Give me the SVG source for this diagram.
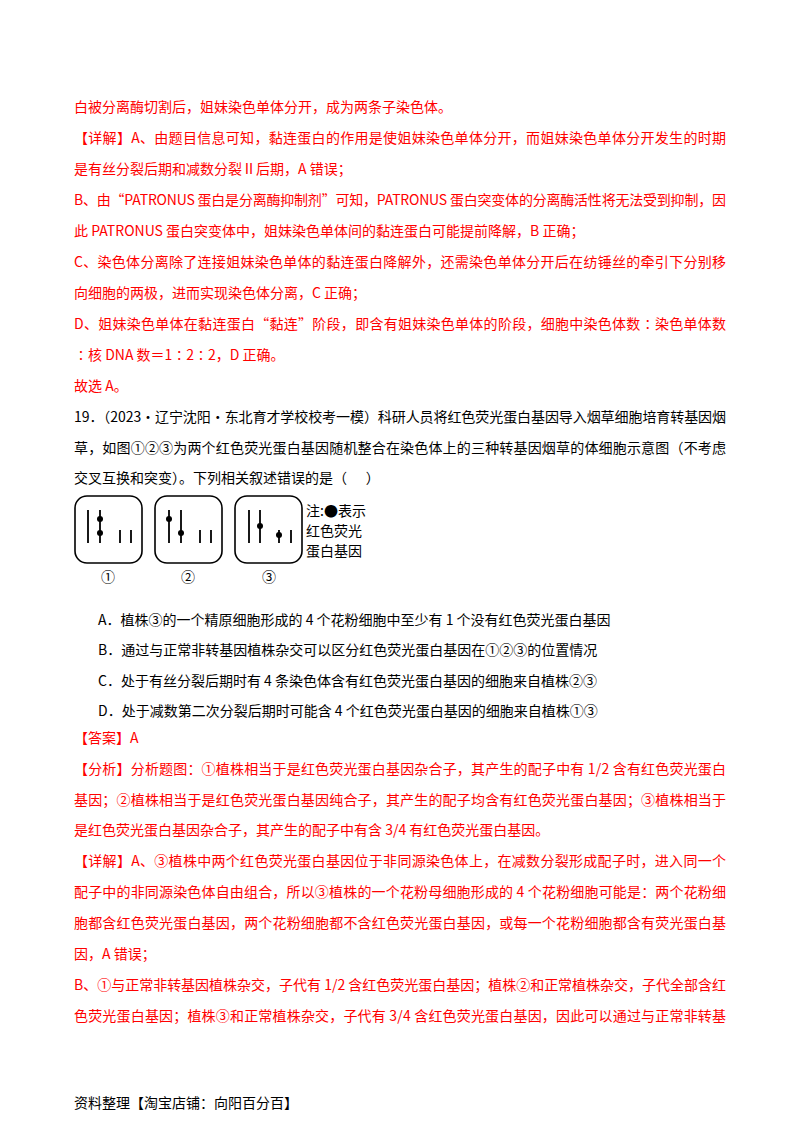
<svg xmlns="http://www.w3.org/2000/svg" width="800" height="1132" viewBox="0 0 800 1132">
<style>
text{font-family:"Noto Sans CJK SC","Noto Sans",sans-serif;font-size:14px}
.r{fill:#f00}.k{fill:#000}
.box{fill:none;stroke:#000;stroke-width:1.6}
.ch{stroke:#000;stroke-width:1.8}
</style>
<rect width="800" height="1132" fill="#fff"/>
<g id="text">
<text class="r" x="74" y="112">白被分离酶切割后，姐妹染色单体分开，成为两条子染色体。</text>
<text class="r" x="74" y="143" textLength="652" lengthAdjust="spacing">【详解】A、由题目信息可知，黏连蛋白的作用是使姐妹染色单体分开，而姐妹染色单体分开发生的时期</text>
<text class="r" x="74" y="174">是有丝分裂后期和减数分裂Ⅱ后期，A 错误；</text>
<text class="r" x="74" y="205" textLength="652" lengthAdjust="spacing">B、由“PATRONUS 蛋白是分离酶抑制剂”可知，PATRONUS 蛋白突变体的分离酶活性将无法受到抑制，因</text>
<text class="r" x="74" y="236">此 PATRONUS 蛋白突变体中，姐妹染色单体间的黏连蛋白可能提前降解，B 正确；</text>
<text class="r" x="74" y="267" textLength="652" lengthAdjust="spacing">C、染色体分离除了连接姐妹染色单体的黏连蛋白降解外，还需染色单体分开后在纺锤丝的牵引下分别移</text>
<text class="r" x="74" y="298">向细胞的两极，进而实现染色体分离，C 正确；</text>
<text class="r" x="74" y="329" textLength="652" lengthAdjust="spacing">D、姐妹染色单体在黏连蛋白“黏连”阶段，即含有姐妹染色单体的阶段，细胞中染色体数∶染色单体数</text>
<text class="r" x="74" y="360">∶核 DNA 数＝1∶2∶2，D 正确。</text>
<text class="r" x="74" y="391">故选 A。</text>
<text class="k" x="74" y="422" textLength="652" lengthAdjust="spacing">19．（2023·辽宁沈阳·东北育才学校校考一模）科研人员将红色荧光蛋白基因导入烟草细胞培育转基因烟</text>
<text class="k" x="74" y="453" textLength="652" lengthAdjust="spacing">草，如图①②③为两个红色荧光蛋白基因随机整合在染色体上的三种转基因烟草的体细胞示意图（不考虑</text>
<text class="k" x="74" y="483">交叉互换和突变）。下列相关叙述错误的是（&#160;&#160;&#160;&#160;&#160;&#160;）</text>
<text class="k" x="98" y="625">A．植株③的一个精原细胞形成的 4 个花粉细胞中至少有 1 个没有红色荧光蛋白基因</text>
<text class="k" x="98" y="655">B．通过与正常非转基因植株杂交可以区分红色荧光蛋白基因在①②③的位置情况</text>
<text class="k" x="98" y="686">C．处于有丝分裂后期时有 4 条染色体含有红色荧光蛋白基因的细胞来自植株②③</text>
<text class="k" x="98" y="716">D．处于减数第二次分裂后期时可能含 4 个红色荧光蛋白基因的细胞来自植株①③</text>
<text class="r" x="74" y="743">【答案】A</text>
<text class="r" x="74" y="774" textLength="652" lengthAdjust="spacing">【分析】分析题图：①植株相当于是红色荧光蛋白基因杂合子，其产生的配子中有 1/2 含有红色荧光蛋白</text>
<text class="r" x="74" y="805" textLength="652" lengthAdjust="spacing">基因；②植株相当于是红色荧光蛋白基因纯合子，其产生的配子均含有红色荧光蛋白基因；③植株相当于</text>
<text class="r" x="74" y="835">是红色荧光蛋白基因杂合子，其产生的配子中有含 3/4 有红色荧光蛋白基因。</text>
<text class="r" x="74" y="866" textLength="652" lengthAdjust="spacing">【详解】A、③植株中两个红色荧光蛋白基因位于非同源染色体上，在减数分裂形成配子时，进入同一个</text>
<text class="r" x="74" y="897" textLength="652" lengthAdjust="spacing">配子中的非同源染色体自由组合，所以③植株的一个花粉母细胞形成的 4 个花粉细胞可能是：两个花粉细</text>
<text class="r" x="74" y="928" textLength="652" lengthAdjust="spacing">胞都含红色荧光蛋白基因，两个花粉细胞都不含红色荧光蛋白基因，或每一个花粉细胞都含有荧光蛋白基</text>
<text class="r" x="74" y="959">因，A 错误；</text>
<text class="r" x="74" y="990" textLength="652" lengthAdjust="spacing">B、①与正常非转基因植株杂交，子代有 1/2 含红色荧光蛋白基因；植株②和正常植株杂交，子代全部含红</text>
<text class="r" x="74" y="1021" textLength="652" lengthAdjust="spacing">色荧光蛋白基因；植株③和正常植株杂交，子代有 3/4 含红色荧光蛋白基因，因此可以通过与正常非转基</text>
<text class="k" x="74" y="1108">资料整理【淘宝店铺：向阳百分百】</text>
</g>
<g id="figure">
<rect class="box" x="75" y="496" width="67" height="67" rx="12"/>
<rect class="box" x="155" y="496" width="67" height="67" rx="12"/>
<rect class="box" x="235" y="496" width="67" height="67" rx="12"/>
<g class="ch">
<line x1="88" y1="510" x2="88" y2="543"/><line x1="100" y1="510" x2="100" y2="543"/>
<line x1="120" y1="530" x2="120" y2="543"/><line x1="131" y1="530" x2="131" y2="543"/>
<line x1="169" y1="510" x2="169" y2="543"/><line x1="181" y1="510" x2="181" y2="543"/>
<line x1="200" y1="530" x2="200" y2="543"/><line x1="211" y1="530" x2="211" y2="543"/>
<line x1="249" y1="510" x2="249" y2="543"/><line x1="260" y1="510" x2="260" y2="543"/>
<line x1="279" y1="530" x2="279" y2="543"/><line x1="291" y1="530" x2="291" y2="543"/>
</g>
<g fill="#000">
<circle cx="100" cy="519" r="3"/><circle cx="100" cy="533" r="3"/>
<circle cx="169" cy="519" r="3"/><circle cx="181" cy="533" r="3"/>
<circle cx="260" cy="526" r="3"/><circle cx="279" cy="535" r="3"/>
</g>
<text class="k" x="306" y="516">注:●表示</text>
<text class="k" x="306" y="536">红色荧光</text>
<text class="k" x="306" y="556">蛋白基因</text>
<text class="k" x="108" y="582" text-anchor="middle">①</text>
<text class="k" x="188" y="582" text-anchor="middle">②</text>
<text class="k" x="269" y="582" text-anchor="middle">③</text>
</g>
</svg>
